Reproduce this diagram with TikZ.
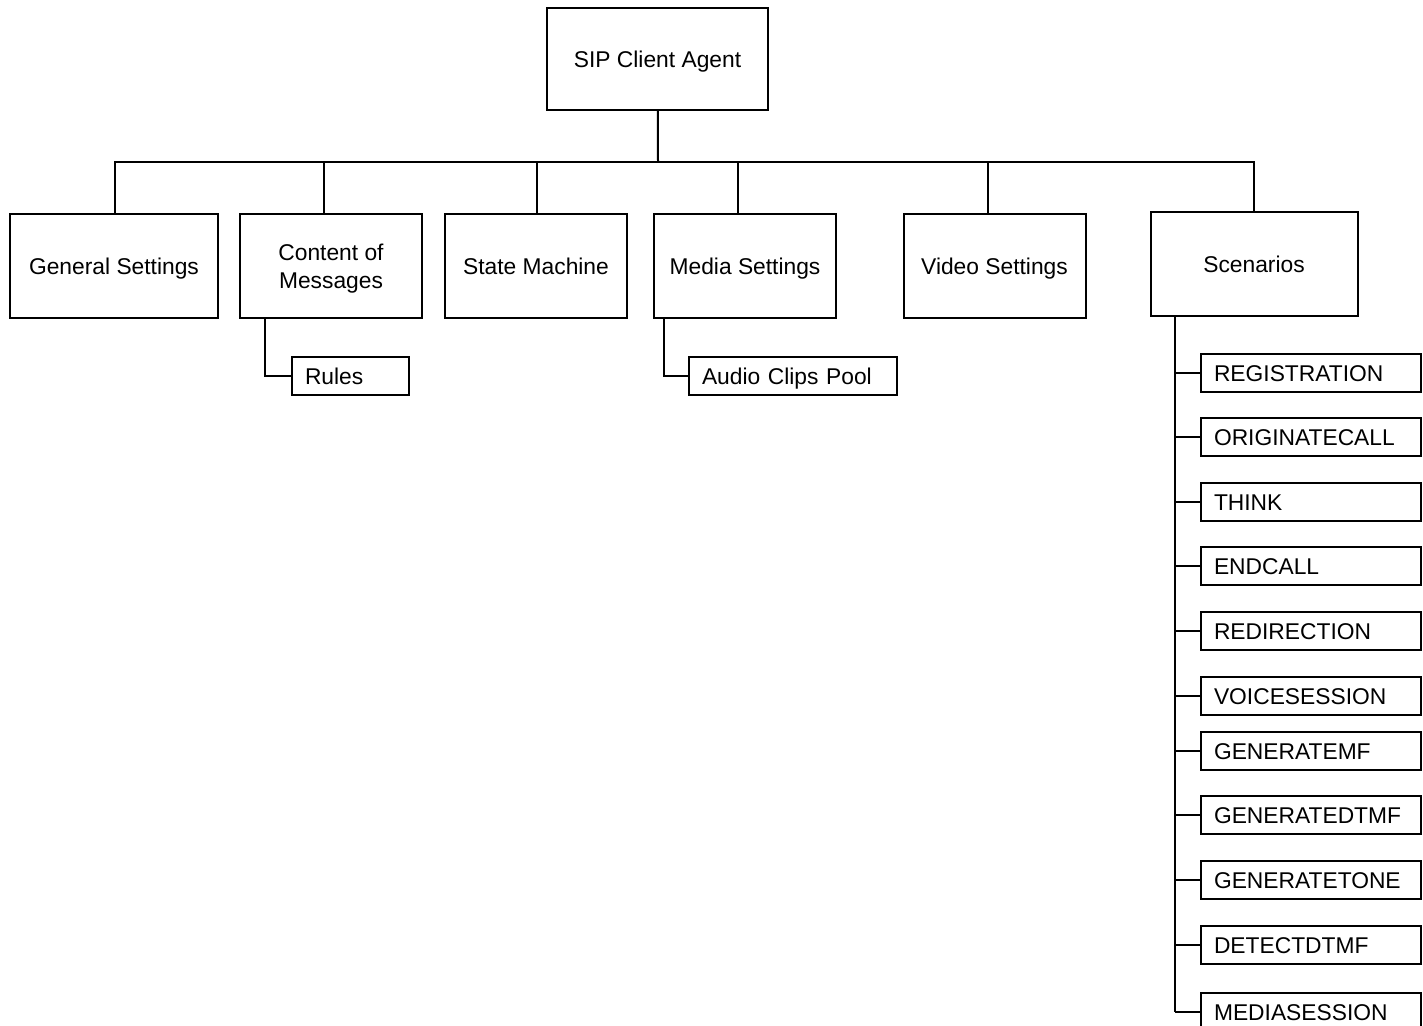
\documentclass[tikz,border=0pt]{standalone}
\usepackage{fontspec}
\setmainfont{Liberation Sans}
\usetikzlibrary{positioning}

\begin{document}
\begin{tikzpicture}[x=0.5pt, y=-0.5pt, line width=1pt,
    box/.style={draw, minimum height=52pt, minimum width=91pt, align=center,
      inner sep=2pt, font=\fontsize{11.4}{14}\selectfont},
    line/.style={text height=10.2pt, text depth=2.04pt},
    leaf/.style={draw, line, minimum height=19pt, text width=#1, inner xsep=6.5pt,
      inner ysep=0pt, align=left, font=\fontsize{11.4}{14}\selectfont}]
\useasboundingbox (0,0) rectangle (1423,1025);

% top of the tree
\node[box, line, minimum width=110.5pt, minimum height=51pt] (root) at (657.5,59) {SIP Client Agent};
\coordinate (bus) at (658,162);

\node[box, line, minimum width=104pt] (general) at (114,266) {General Settings};
\node[box] (content) at (331,266)
    {\raisebox{0pt}[\dimexpr\height+3pt\relax]{\begin{tabular}{@{}c@{}}Content of\\Messages\end{tabular}}};
\node[box, line] (state) at (536,266) {State Machine};
\node[box, line] (media) at (745,266) {Media Settings};
\node[box, line] (video) at (994.5,266) {Video Settings};
\node[box, line, minimum width=103.5pt] (scen) at (1254,264) {Scenarios};

% bus and drops
\draw (root) -- (bus);
\draw ([xshift=0.5pt]general.north) |- (scen.north |- bus) -- (scen.north);
\foreach \n/\dx in {content/-3.5, state/0.5, media/-3.5, video/-3.25} {
    \draw ([xshift=\dx pt]\n.north) -- ([xshift=\dx pt]\n.north |- bus);
};

% sub items
\node[leaf=45.5pt] (rules) at (350.5,376) {Rules};
\node[leaf=91pt] (clips) at (793,376) {Audio Clips Pool};
\draw ([xshift=13pt]content.south west) |- (rules.west);
\draw ([xshift=5.5pt]media.south west) |- (clips.west);

% scenario list
\coordinate (trunk) at ([xshift=12.5pt]scen.south west);
\foreach \name/\y [count=\i] in {REGISTRATION/373, ORIGINATECALL/437, THINK/502,
    ENDCALL/566, REDIRECTION/631, VOICESESSION/696, GENERATEMF/751,
    GENERATEDTMF/815, GENERATETONE/880, DETECTDTMF/945, MEDIASESSION/1012} {
    \node[leaf=97pt] (sc\i) at (1311,\y) {\name};
    \draw (trunk |- sc\i.west) -- (sc\i.west);
};
\draw (trunk) -- (trunk |- sc11.west);
\end{tikzpicture}
\end{document}
